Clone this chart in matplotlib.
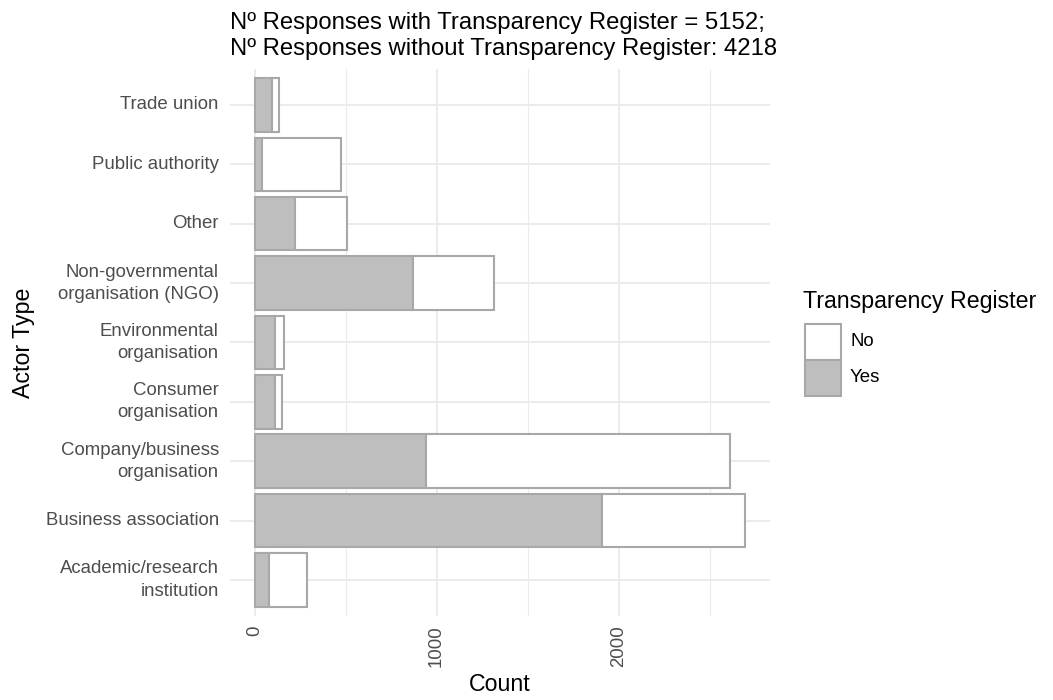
import matplotlib.pyplot as plt
import matplotlib.patches as mpatches
import numpy as np

plt.rcParams['font.family'] = ['Liberation Sans', 'DejaVu Sans']

# actor types, bottom to top
actors = ['Academic/research\ninstitution', 'Business association',
          'Company/business\norganisation', 'Consumer\norganisation',
          'Environmental\norganisation', 'Non-governmental\norganisation (NGO)',
          'Other', 'Public authority', 'Trade union']
yes_counts = [78, 1908, 943, 114, 114, 871, 222, 41, 94]
no_counts = [210, 788, 1671, 37, 50, 445, 288, 436, 41]

x_ticks = [0, 1000, 2000]
x_minor = [500, 1500, 2500]

legend_labels = ['No', 'Yes']

grey_fill = '#bebebe'
edge = '#a8a8a8'
grid_col = '#ebebeb'

W, H = 1053, 700
figure = plt.figure(figsize=(W / 100, H / 100), dpi=100)
ax = figure.add_axes([0.2184, 0.1206, 0.5126, 0.7803])

y = np.arange(len(actors))
ax.barh(y, yes_counts, height=0.9, color=grey_fill, edgecolor=edge, linewidth=1.5, zorder=3)
ax.barh(y, no_counts, left=yes_counts, height=0.9, color='white', edgecolor=edge, linewidth=1.5, zorder=3)

totals = np.array(yes_counts) + np.array(no_counts)
pad = 0.05 * totals.max()
ax.set_xlim(-pad, totals.max() + pad)
ax.set_ylim(-0.6, len(actors) - 0.4)

ax.set_xticks(x_ticks)
ax.set_xticks(x_minor, minor=True)
ax.set_yticks(y)
ax.set_yticklabels(actors, linespacing=1.4, va='center')
ax.set_xticklabels([str(t) for t in x_ticks], rotation=90)

ax.grid(True, which='major', color=grid_col, linewidth=1.4, zorder=0)
ax.grid(True, which='minor', axis='x', color=grid_col, linewidth=0.8, zorder=0)
ax.set_axisbelow(True)
for s in ax.spines.values():
    s.set_visible(False)
ax.tick_params(axis='both', which='both', length=0, labelsize=13.4, labelcolor='#4d4d4d')
ax.tick_params(axis='y', pad=8)
ax.tick_params(axis='x', pad=7)

ax.set_xlabel('Count', fontsize=16.7, labelpad=4)
ax.set_ylabel('Actor Type', fontsize=16.7, labelpad=8)
ax.set_title('Nº Responses with Transparency Register = 5152;\n'
             'Nº Responses without Transparency Register: 4218',
             fontsize=17.2, loc='left', pad=10, linespacing=1.25)

# legend drawn by hand so the keys are the same size as ggplot's
figure.text(803 / W, 1 - 308 / H, 'Transparency Register', fontsize=16.7, va='baseline', ha='left')
key_fills = ['white', grey_fill]
for i, (lab, fc) in enumerate(zip(legend_labels, key_fills)):
    top = 324 + i * 36
    figure.add_artist(mpatches.Rectangle((805 / W, 1 - (top + 36) / H), 36 / W, 36 / H,
                                         facecolor=fc, edgecolor=edge, linewidth=1.5,
                                         transform=figure.transFigure))
    figure.text(850 / W, 1 - (top + 18) / H, lab, fontsize=13.4, va='center', ha='left')

plt.savefig('out.png', dpi=100)
